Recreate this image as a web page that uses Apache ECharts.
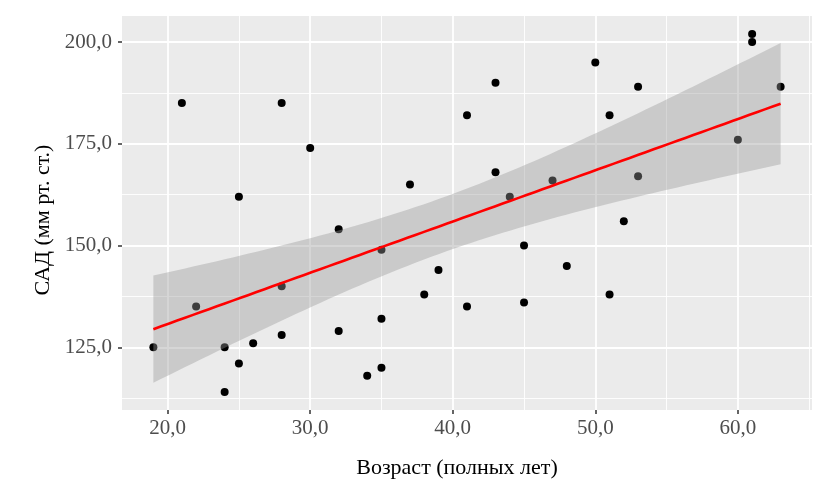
<!DOCTYPE html>
<html>
<head>
<meta charset="utf-8">
<script src="https://cdn.jsdelivr.net/npm/echarts@6/dist/echarts.min.js"></script>
<style>
	html, body { margin: 0; padding: 0; background: #fff; }
	#main { width: 820px; height: 484px; }
</style>
</head>
<body>
<div id="main"></div>
<script>
// возраст (полных лет)
var ages = [21, 28, 30, 25, 37, 61, 61, 50, 43, 53, 63, 41, 51, 60, 43, 53, 47, 44, 32, 35,
	39, 28, 38, 22, 35, 32, 28, 26, 19, 24, 25, 35, 34, 24, 52, 45, 48, 51, 41, 45];
// САД
var sbp = [185, 185, 174, 162, 165, 202, 200, 195, 190, 189, 189, 182, 182, 176, 168, 167, 166, 162, 154, 149,
	144, 140, 138, 135, 132, 129, 128, 126, 125, 125, 121, 120, 118, 114, 156, 150, 145, 138, 135, 136];

var xTicks = [20, 30, 40, 50, 60];
var xMinor = [25, 35, 45, 55, 65];
var yTicks = [125, 150, 175, 200];
var yMinor = [112.5, 137.5, 162.5, 187.5];

var font = 'Liberation Serif';

function fmt(v) {
	return v.toFixed(1).replace('.', ',');
}

// линейная регрессия + 95% доверительный интервал (как geom_smooth(method = "lm"))
function lmFit(xs, ys) {
	var n = xs.length, mx = 0, my = 0;
	for (var i = 0; i < n; i++) { mx += xs[i]; my += ys[i]; }
	mx /= n; my /= n;
	var sxx = 0, sxy = 0;
	for (var i = 0; i < n; i++) {
		sxx += (xs[i] - mx) * (xs[i] - mx);
		sxy += (xs[i] - mx) * (ys[i] - my);
	}
	var b = sxy / sxx, a = my - b * mx;
	var rss = 0;
	for (var i = 0; i < n; i++) {
		var r = ys[i] - (a + b * xs[i]);
		rss += r * r;
	}
	var s = Math.sqrt(rss / (n - 2));
	var t = 2.024; // t(0.975, df = 38)
	var lo = Math.min.apply(null, xs), hi = Math.max.apply(null, xs);
	var line = [], upper = [], lower = [];
	for (var k = 0; k < 80; k++) {
		var x = lo + (hi - lo) * k / 79;
		var f = a + b * x;
		var se = s * Math.sqrt(1 / n + (x - mx) * (x - mx) / sxx);
		line.push([x, f]);
		upper.push([x, f + t * se]);
		lower.push([x, f - t * se]);
	}
	return { line: line, upper: upper, lower: lower };
}

var fit = lmFit(ages, sbp);
var points = ages.map(function(a, i) { return [a, sbp[i]]; });

var myChart = echarts.init(document.getElementById('main'));

var gridLines = [];
xMinor.forEach(function(v) { gridLines.push({ xAxis: v, lineStyle: { width: 0.9 } }); });
yMinor.forEach(function(v) { gridLines.push({ yAxis: v, lineStyle: { width: 0.9 } }); });
xTicks.forEach(function(v) { gridLines.push({ xAxis: v, lineStyle: { width: 1.8 } }); });
yTicks.forEach(function(v) { gridLines.push({ yAxis: v, lineStyle: { width: 1.8 } }); });

var option = {
	animation: false,
	backgroundColor: '#fff',
	grid: {
		left: 122,
		right: 8,
		top: 16,
		bottom: 66,
		show: true,
		backgroundColor: '#EBEBEB',
		borderWidth: 0
	},
	xAxis: {
		type: 'value',
		min: 16.8,
		max: 65.2,
		name: 'Возраст (полных лет)',
		nameLocation: 'middle',
		nameGap: 47,
		nameTextStyle: { fontFamily: font, fontSize: 22, color: '#000', padding: [0, 20, 0, 0] },
		axisLine: { show: false },
		splitLine: { show: false },
		axisTick: {
			show: true,
			customValues: xTicks,
			length: 4,
			lineStyle: { color: '#333', width: 1.5 }
		},
		axisLabel: {
			customValues: xTicks,
			formatter: fmt,
			margin: 8,
			fontFamily: font,
			fontSize: 21,
			color: '#4D4D4D'
		}
	},
	yAxis: {
		type: 'value',
		min: 109.6,
		max: 206.4,
		name: 'САД (мм рт. ст.)',
		nameLocation: 'middle',
		nameGap: 67,
		nameTextStyle: { fontFamily: font, fontSize: 22, color: '#000', padding: [0, 14, 0, 0] },
		axisLine: { show: false },
		splitLine: { show: false },
		axisTick: {
			show: true,
			customValues: yTicks,
			length: 4,
			lineStyle: { color: '#333', width: 1.5 }
		},
		axisLabel: {
			customValues: yTicks,
			formatter: fmt,
			margin: 10,
			fontFamily: font,
			fontSize: 21,
			color: '#4D4D4D'
		}
	},
	series: [{
		// сетка
		type: 'line',
		data: [],
		silent: true,
		z: 0,
		markLine: {
			silent: true,
			z: 0,
			symbol: ['none', 'none'],
			label: { show: false },
			lineStyle: { color: '#fff', type: 'solid' },
			animation: false,
			data: gridLines
		}
	}, {
		type: 'scatter',
		data: points,
		symbolSize: 8,
		itemStyle: { color: '#000', opacity: 1 },
		z: 6
	}, {
		// доверительная полоса
		type: 'custom',
		data: [0],
		silent: true,
		z: 7,
		renderItem: function(params, api) {
			var pts = [];
			fit.upper.forEach(function(p) { pts.push(api.coord(p)); });
			for (var i = fit.lower.length - 1; i >= 0; i--) pts.push(api.coord(fit.lower[i]));
			return {
				type: 'polygon',
				shape: { points: pts },
				style: { fill: 'rgba(153,153,153,0.4)' }
			};
		}
	}, {
		type: 'line',
		data: fit.line,
		showSymbol: false,
		silent: true,
		lineStyle: { color: '#FF0000', width: 2.6 },
		z: 8
	}]
};

myChart.setOption(option, true);
window.onresize = function() {
	myChart.resize();
};
</script>
</body>
</html>
